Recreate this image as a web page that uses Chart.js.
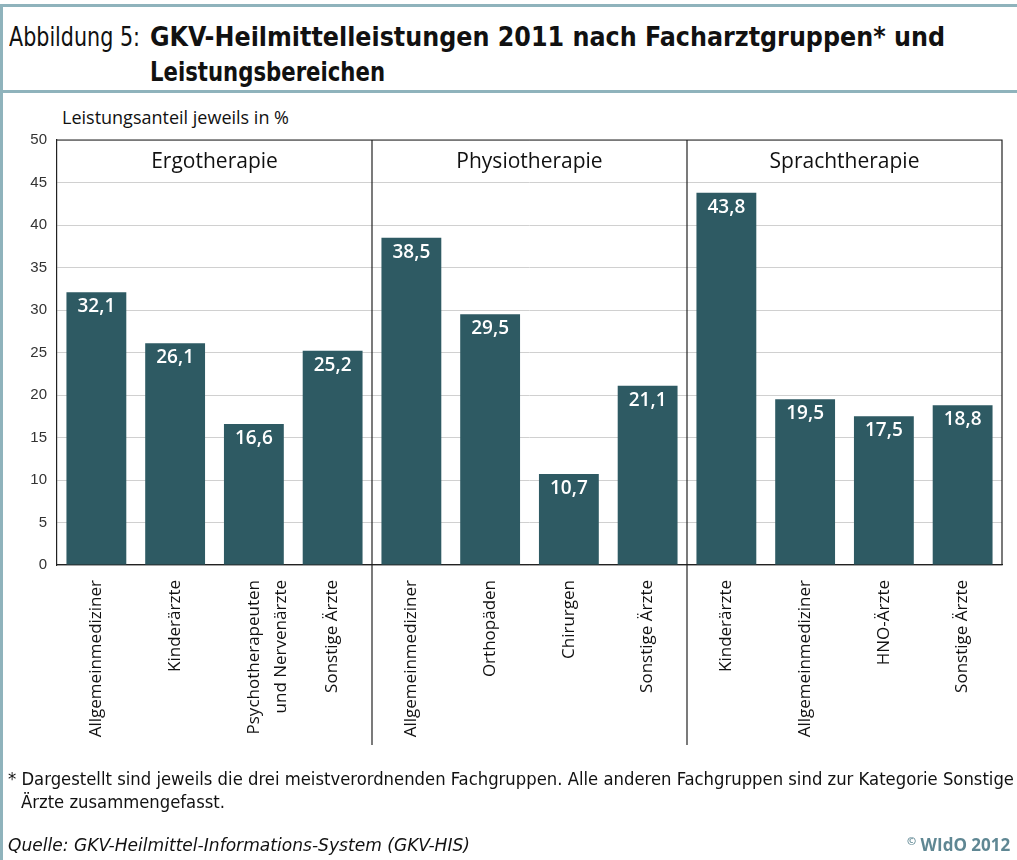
<!DOCTYPE html>
<html>
<head>
<meta charset="utf-8">
<script src="https://cdn.jsdelivr.net/npm/chart.js@4.4.1/dist/chart.umd.min.js"></script>
<style>
  body { margin: 0; background: #fff; width: 1017px; height: 860px; overflow: hidden; position: relative; }
  #frame { position: absolute; left: 0; top: 4px; width: 1030px; height: 900px; border-left: 3px solid #8fb3bc; border-top: 3px solid #8fb3bc; box-sizing: border-box; }
  #sep { position: absolute; left: 0; top: 90px; width: 1030px; height: 3px; background: #8fb3bc; }
  .narrow { font-family: "Liberation Sans Narrow", "DejaVu Sans Condensed", sans-serif; color: #111; position: absolute; white-space: nowrap; transform-origin: 0 0; }
  #t0 { left: 9px; top: 21px; font-size: 27px; }
  #t1 { left: 150px; top: 21px; font-size: 27px; font-weight: bold; }
  #t2 { left: 150px; top: 56px; font-size: 27px; font-weight: bold; }
  #fn1 { left: 8px; top: 769px; font-size: 17px; }
  #fn2 { left: 21px; top: 792px; font-size: 17px; }
  #src { left: 8px; top: 835px; font-size: 17px; font-style: italic; }
  #cr { position: absolute; left: 907px; top: 833px; font-size: 17px; font-weight: bold; color: #5f8793; font-family: "Open Sans", sans-serif; white-space: nowrap; }
  #ytitle { position: absolute; left: 62px; top: 105px; font-family: "Open Sans", sans-serif; font-weight: 500; font-size: 18px; color: #111; }
  canvas { position: absolute; left: 0; top: 0; }
</style>
</head>
<body>
<div id="frame"></div>
<div id="sep"></div>
<div class="narrow" id="t0" data-w="131">Abbildung 5:</div>
<div class="narrow" id="t1" data-w="795">GKV-Heilmittelleistungen 2011 nach Facharztgruppen* und</div>
<div class="narrow" id="t2" data-w="235">Leistungsbereichen</div>
<div id="ytitle">Leistungsanteil jeweils in %</div>
<canvas id="chart" width="1017" height="860"></canvas>
<div class="narrow" id="fn1" data-w="1006">* Dargestellt sind jeweils die drei meistverordnenden Fachgruppen. Alle anderen Fachgruppen sind zur Kategorie Sonstige</div>
<div class="narrow" id="fn2">Ärzte zusammengefasst.</div>
<div class="narrow" id="src" data-w="462">Quelle: GKV-Heilmittel-Informations-System (GKV-HIS)</div>
<div id="cr"><span style="font-size:11px;vertical-align:top;">©</span> WIdO 2012</div>

<script>
var groups = ['Ergotherapie', 'Physiotherapie', 'Sprachtherapie'];
var categories = [
    'Allgemeinmediziner', 'Kinderärzte', ['Psychotherapeuten', 'und Nervenärzte'], 'Sonstige Ärzte',
    'Allgemeinmediziner', 'Orthopäden', 'Chirurgen', 'Sonstige Ärzte',
    'Kinderärzte', 'Allgemeinmediziner', 'HNO-Ärzte', 'Sonstige Ärzte'
];
var values = [32.1, 26.1, 16.6, 25.2, 38.5, 29.5, 10.7, 21.1, 43.8, 19.5, 17.5, 18.8];
var yTicks = [0, 5, 10, 15, 20, 25, 30, 35, 40, 45, 50];
var perGroup = 4;

// squeeze the condensed text lines to the width they have in the print
var fnScale = 1;
document.querySelectorAll('.narrow[data-w]').forEach(function(el) {
    var f = el.dataset.w / el.getBoundingClientRect().width;
    el.style.transform = 'scaleX(' + f + ')';
    if (el.id == 'fn1') fnScale = f;
});
document.getElementById('fn2').style.transform = 'scaleX(' + fnScale + ')';

// group frame, dividers, group names and value labels
var decorations = {
    id: 'decorations',
    afterDatasetsDraw: function(chart) {
        var ctx = chart.ctx;
        var area = chart.chartArea;
        var x = chart.scales.x;
        ctx.save();
        ctx.strokeStyle = '#222';
        ctx.lineWidth = 1.2;
        ctx.beginPath();
        ctx.moveTo(area.left, area.top);
        ctx.lineTo(area.right, area.top);
        ctx.lineTo(area.right, area.bottom);
        ctx.stroke();

        var bounds = [area.left];
        for (var g = 1; g < groups.length; g++) {
            var bx = (x.getPixelForValue(g * perGroup - 1) + x.getPixelForValue(g * perGroup)) / 2;
            bounds.push(bx);
            ctx.beginPath();
            ctx.moveTo(bx, area.top);
            ctx.lineTo(bx, area.bottom + 180);
            ctx.stroke();
        }
        bounds.push(area.right);

        ctx.fillStyle = '#111';
        ctx.font = '500 21px "Open Sans", sans-serif';
        ctx.textAlign = 'center';
        ctx.textBaseline = 'middle';
        for (var i = 0; i < groups.length; i++) {
            ctx.fillText(groups[i], (bounds[i] + bounds[i + 1]) / 2, area.top + 22);
        }

        ctx.fillStyle = '#fff';
        ctx.font = '600 19px "Open Sans", sans-serif';
        ctx.textBaseline = 'top';
        chart.getDatasetMeta(0).data.forEach(function(bar, i) {
            ctx.fillText(values[i].toFixed(1).replace('.', ','), bar.x, bar.y + 5);
        });
        ctx.restore();
    }
};

new Chart(document.getElementById('chart'), {
    type: 'bar',
    data: {
        labels: categories,
        datasets: [{
            data: values,
            backgroundColor: '#2e5a63',
            categoryPercentage: 1,
            barPercentage: 0.76
        }]
    },
    options: {
        responsive: false,
        animation: false,
        layout: { padding: { top: 140, right: 15, bottom: 120, left: 0 } },
        plugins: { legend: { display: false }, tooltip: { enabled: false } },
        scales: {
            x: {
                grid: { display: false },
                border: { color: '#222', width: 1.2 },
                ticks: {
                    minRotation: 90, maxRotation: 90, autoSkip: false,
                    color: '#111', padding: 7,
                    font: { family: '"Open Sans", sans-serif', size: 17, weight: '500', lineHeight: 1.6 }
                },
                afterFit: function(s) { s.height = 175; }
            },
            y: {
                min: 0, max: 50,
                afterBuildTicks: function(s) { s.ticks = yTicks.map(function(v) { return { value: v }; }); },
                grid: { color: '#d0d0d0', drawTicks: false },
                border: { color: '#222', width: 1.2 },
                ticks: {
                    color: '#333', padding: 10,
                    font: { family: '"Liberation Sans", Arial, sans-serif', size: 15 }
                },
                afterFit: function(s) { s.width = 57; }
            }
        }
    },
    plugins: [decorations]
});
</script>
</body>
</html>
